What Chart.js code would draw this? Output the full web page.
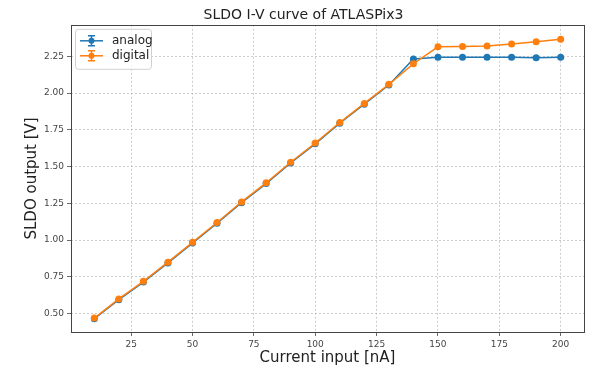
<!DOCTYPE html>
<html>
<head>
<meta charset="utf-8">
<script src="https://cdn.jsdelivr.net/npm/chart.js@4.4.1/dist/chart.umd.min.js"></script>
<style>
html,body{margin:0;padding:0;background:#fff;}
#wrap{width:595px;height:367px;position:relative;}
</style>
</head>
<body>
<div id="wrap"><canvas id="c" width="595" height="367"></canvas></div>
<script>
const titleText = "SLDO I-V curve of ATLASPix3";
const xLabel = "Current input [nA]";
const yLabel = "SLDO output [V]";
const currentInput = [10,20,30,40,50,60,70,80,90,100,110,120,130,140,150,160,170,180,190,200];
const analogOut = [0.465,0.595,0.715,0.845,0.98,1.115,1.255,1.385,1.525,1.655,1.795,1.925,2.055,2.232,2.244,2.244,2.244,2.244,2.241,2.244];
const digitalOut = [0.47,0.60,0.72,0.85,0.985,1.12,1.26,1.39,1.53,1.66,1.80,1.93,2.06,2.20,2.315,2.317,2.32,2.335,2.35,2.366];
const seriesNames = ["analog","digital"];
const seriesColors = ["#1f77b4","#ff7f0e"];
const xTicks = [25,50,75,100,125,150,175,200];
const yTicks = [0.5,0.75,1.0,1.25,1.5,1.75,2.0,2.25];

const FONT = "'DejaVu Sans', sans-serif";

const boxPlugin = {
  id: 'box',
  afterDatasetsDraw(chart) {
    const {ctx, chartArea: a} = chart;
    ctx.save();
    ctx.strokeStyle = '#444';
    ctx.lineWidth = 1;
    ctx.strokeRect(Math.round(a.left)+0.5, Math.round(a.top)+0.5, Math.round(a.right-a.left), Math.round(a.bottom-a.top));
    ctx.restore();
  }
};

const legendPlugin = {
  id: 'mplLegend',
  afterDraw(chart) {
    const {ctx, chartArea: a} = chart;
    const x0 = a.left + 4, y0 = a.top + 4, w = 76, h = 40;
    ctx.save();
    ctx.fillStyle = 'rgba(255,255,255,0.85)';
    ctx.strokeStyle = '#d0d0d0';
    ctx.lineWidth = 1;
    ctx.beginPath();
    ctx.roundRect(x0+0.5, y0+0.5, w, h, 3);
    ctx.fill(); ctx.stroke();
    chart.data.datasets.forEach((ds, i) => {
      const cy = y0 + 12 + i * 15;
      const lx = x0 + 5, rx = x0 + 28, mx = (lx + rx) / 2;
      ctx.strokeStyle = ds.borderColor;
      ctx.lineWidth = 1.5;
      ctx.beginPath(); ctx.moveTo(lx, cy); ctx.lineTo(rx, cy); ctx.stroke();
      ctx.beginPath(); ctx.moveTo(mx, cy-5); ctx.lineTo(mx, cy+5); ctx.stroke();
      ctx.beginPath(); ctx.moveTo(mx-3.5, cy-5); ctx.lineTo(mx+3.5, cy-5);
      ctx.moveTo(mx-3.5, cy+5); ctx.lineTo(mx+3.5, cy+5); ctx.stroke();
      ctx.fillStyle = ds.backgroundColor;
      ctx.beginPath(); ctx.arc(mx, cy, 3, 0, Math.PI*2); ctx.fill();
      ctx.fillStyle = '#222';
      ctx.font = "12px " + FONT;
      ctx.textBaseline = 'middle';
      ctx.textAlign = 'left';
      ctx.fillText(ds.label, x0 + 37, cy);
    });
    ctx.restore();
  }
};

const mkData = (ys) => currentInput.map((x, i) => ({x, y: ys[i]}));

new Chart(document.getElementById('c'), {
  type: 'line',
  data: {
    datasets: [
      {label: seriesNames[0], data: mkData(analogOut), borderColor: seriesColors[0], backgroundColor: seriesColors[0],
       borderWidth: 1.5, pointRadius: 3.5, pointHoverRadius: 3.5, pointBorderWidth: 0, order: 2, tension: 0},
      {label: seriesNames[1], data: mkData(digitalOut), borderColor: seriesColors[1], backgroundColor: seriesColors[1],
       borderWidth: 1.5, pointRadius: 3.5, pointHoverRadius: 3.5, pointBorderWidth: 0, order: 1, tension: 0}
    ]
  },
  options: {
    responsive: false,
    animation: false,
    events: [],
    layout: {padding: {left: 23, right: 11, top: 0, bottom: 0}},
    plugins: {
      legend: {display: false},
      tooltip: {enabled: false},
      title: {display: true, text: titleText, color: '#222',
              font: {family: FONT, size: 14, weight: 'normal'}, padding: {top: 7, bottom: 1}}
    },
    scales: {
      x: {
        type: 'linear', min: 0.5, max: 209.5,
        afterBuildTicks: s => { s.ticks = xTicks.map(v => ({value: v})); },
        afterFit: s => { s.height = 35; },
        ticks: {color: '#444', font: {family: FONT, size: 9}, padding: 3, maxRotation: 0, autoSkip: false,
                callback: v => String(v)},
        grid: {color: 'rgba(176,176,176,0.8)', lineWidth: 0.8, tickLength: 4, tickColor: '#444', tickBorderDash: []},
        border: {display: false, dash: [2,2]},
        title: {display: true, text: xLabel, color: '#222', font: {family: FONT, size: 15}, padding: {top: 0, bottom: 0}}
      },
      y: {
        type: 'linear', min: 0.375, max: 2.465,
        afterBuildTicks: s => { s.ticks = yTicks.map(v => ({value: v})); },
        afterFit: s => { s.width = 48; },
        ticks: {color: '#444', font: {family: FONT, size: 9}, padding: 3, autoSkip: false,
                callback: v => Number(v).toFixed(2)},
        grid: {color: 'rgba(176,176,176,0.8)', lineWidth: 0.8, tickLength: 4, tickColor: '#444', tickBorderDash: []},
        border: {display: false, dash: [2,2]},
        title: {display: true, text: yLabel, color: '#222', font: {family: FONT, size: 15}, padding: {top: 0, bottom: 0}}
      }
    }
  },
  plugins: [boxPlugin, legendPlugin]
});
</script>
</body>
</html>
